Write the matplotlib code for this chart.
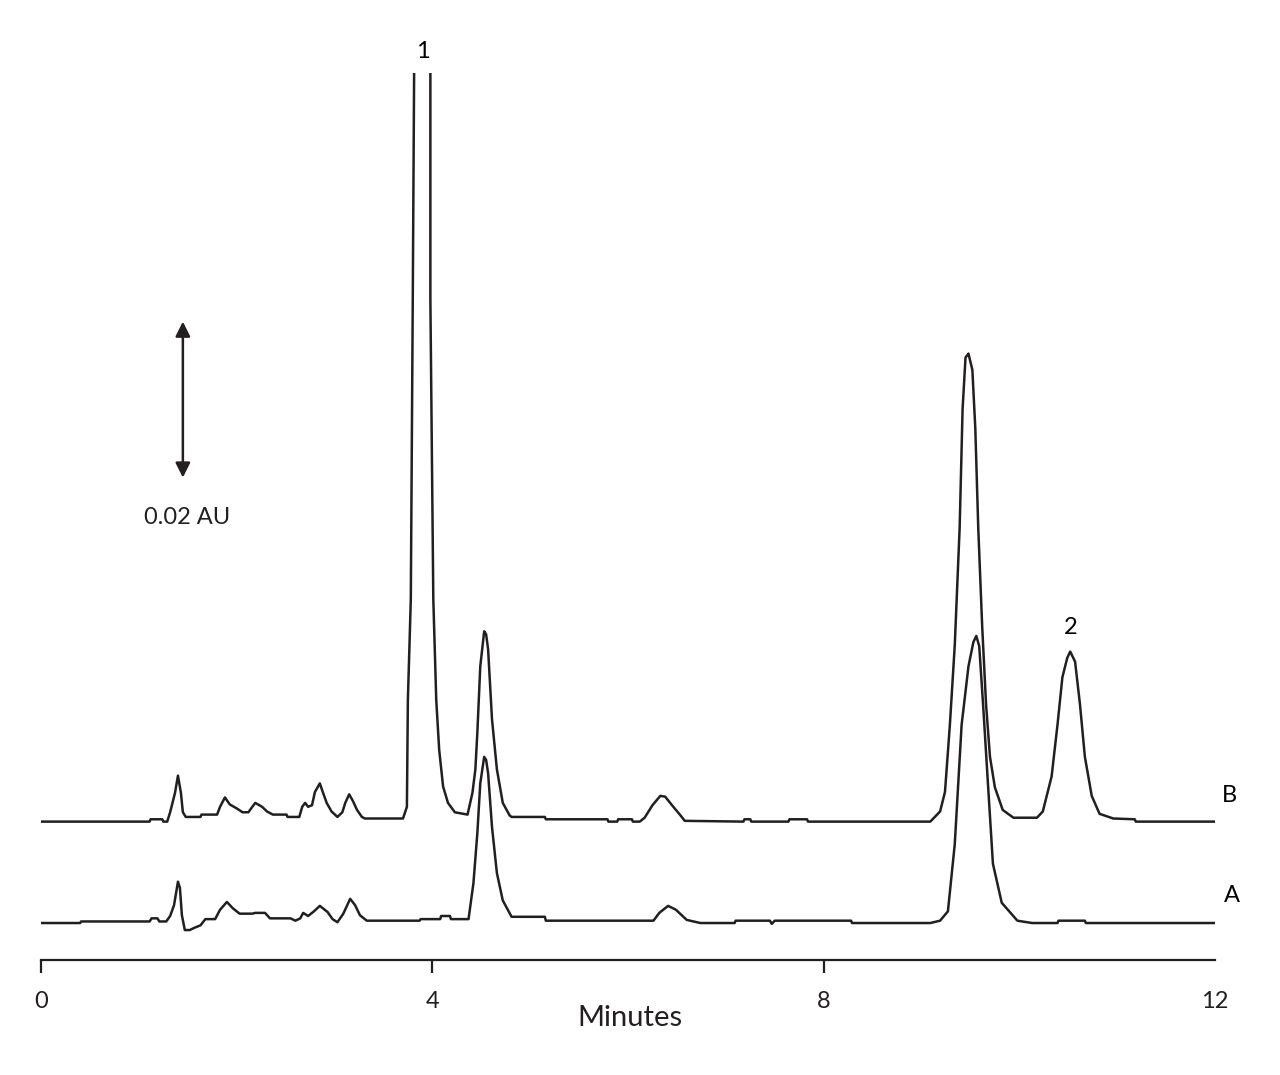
import matplotlib.pyplot as plt

plt.rcParams['font.family'] = ['Lato', 'DejaVu Sans']

# trace A (minutes, mAU above its own baseline)
a_time = [0.0, 0.40, 0.41, 1.11, 1.13, 1.19, 1.21, 1.28, 1.32, 1.36, 1.40, 1.42, 1.44, 1.47,
          1.52, 1.57, 1.63, 1.68, 1.78, 1.83, 1.90, 1.96, 2.03, 2.16, 2.19, 2.29, 2.34, 2.55,
          2.60, 2.65, 2.68, 2.73, 2.79, 2.85, 2.93, 2.98, 3.03, 3.09, 3.16, 3.21, 3.26, 3.33,
          3.87, 3.88, 4.08, 4.09, 4.18, 4.19, 4.37, 4.42, 4.46, 4.49, 4.53, 4.55, 4.57, 4.61,
          4.66, 4.72, 4.81, 5.15, 5.16, 6.26, 6.32, 6.41, 6.49, 6.60, 6.74, 7.09, 7.10, 7.45,
          7.47, 7.50, 8.28, 8.29, 9.09, 9.19, 9.27, 9.34, 9.41, 9.48, 9.53, 9.56, 9.59, 9.63,
          9.68, 9.73, 9.82, 9.98, 10.13, 10.39, 10.40, 10.67, 10.68, 12.0]
a_signal = [0, 0, 0.2, 0.2, 0.6, 0.6, 0.2, 0.2, 0.9, 2.3, 5.3, 4.5, 1.0, -0.9,
            -0.9, -0.6, -0.3, 0.5, 0.5, 1.7, 2.7, 1.9, 1.2, 1.2, 1.3, 1.3, 0.6, 0.6,
            0.3, 0.6, 1.3, 0.9, 1.5, 2.2, 1.4, 0.5, 0.1, 1.2, 3.1, 2.3, 1.0, 0.3,
            0.3, 0.5, 0.5, 0.9, 0.9, 0.5, 0.5, 5.1, 11.5, 17.9, 21.3, 20.9, 19.2, 12.3,
            6.4, 2.9, 0.8, 0.8, 0.3, 0.3, 1.3, 2.2, 1.7, 0.4, 0, 0, 0.3, 0.3,
            -0.1, 0.3, 0.3, 0, 0, 0.3, 1.5, 10.1, 25.4, 32.9, 36.0, 36.8, 35.5, 27.9,
            17.7, 7.6, 2.6, 0.3, 0, 0, 0.3, 0.3, 0, 0]

# trace B
b_time = [0.0, 1.11, 1.12, 1.24, 1.25, 1.29, 1.32, 1.37, 1.40, 1.43, 1.45, 1.48, 1.63, 1.64,
          1.80, 1.83, 1.88, 1.93, 2.00, 2.06, 2.12, 2.16, 2.19, 2.26, 2.31, 2.37, 2.51, 2.52,
          2.64, 2.67, 2.70, 2.73, 2.77, 2.80, 2.85, 2.88, 2.92, 2.97, 3.03, 3.08, 3.11, 3.15,
          3.19, 3.23, 3.28, 3.31, 3.70, 3.74, 3.75, 3.78, 3.80, 3.82, 3.89, 3.98, 3.98, 4.01,
          4.04, 4.07, 4.11, 4.16, 4.23, 4.36, 4.41, 4.44, 4.46, 4.49, 4.53, 4.55, 4.57, 4.61,
          4.66, 4.72, 4.79, 4.81, 5.15, 5.16, 5.79, 5.80, 5.89, 5.90, 6.04, 6.05, 6.12, 6.17,
          6.25, 6.33, 6.38, 6.45, 6.53, 6.58, 7.18, 7.19, 7.25, 7.26, 7.64, 7.65, 7.83, 7.84,
          9.09, 9.19, 9.24, 9.29, 9.34, 9.39, 9.42, 9.45, 9.48, 9.52, 9.55, 9.58, 9.62, 9.66,
          9.70, 9.75, 9.83, 9.94, 10.18, 10.24, 10.33, 10.39, 10.44, 10.49, 10.52, 10.57, 10.62,
          10.67, 10.74, 10.82, 10.96, 11.18, 11.19, 12.0]
b_signal = [0, 0, 0.3, 0.3, 0, 0, 1.2, 3.7, 5.9, 3.7, 1.2, 0.6, 0.6, 0.9,
            0.9, 1.9, 3.1, 2.2, 1.7, 1.2, 1.2, 1.9, 2.4, 1.9, 1.3, 0.9, 0.9, 0.6,
            0.6, 1.9, 2.4, 1.9, 2.1, 3.8, 4.9, 3.8, 2.4, 1.3, 0.6, 1.2, 2.4, 3.5,
            2.6, 1.5, 0.6, 0.4, 0.4, 1.9, 15.6, 28.5, 66.9, 109.0, 118.0, 109.0, 66.9, 28.5,
            15.6, 9.2, 4.5, 2.4, 1.2, 0.9, 3.7, 6.7, 11.4, 19.9, 24.4, 24.0, 22.1, 13.1,
            6.7, 2.4, 0.8, 0.6, 0.6, 0.3, 0.3, 0, 0, 0.3, 0.3, 0, 0, 0.5,
            2.1, 3.3, 3.2, 2.1, 0.9, 0.1, 0, 0.3, 0.3, 0, 0, 0.3, 0.3, 0,
            0, 1.3, 3.8, 12.4, 22.6, 37.7, 52.9, 59.5, 60.0, 57.9, 50.4, 37.7, 25.1, 15.0,
            8.3, 4.4, 1.5, 0.5, 0.5, 1.3, 5.8, 12.4, 18.5, 21.0, 21.8, 20.5, 15.0,
            8.3, 3.3, 1.0, 0.4, 0.3, 0, 0]

b_offset = 13.0  # mAU between the two baselines
peak_labels = ['1', '2']
peak_times = [3.90, 10.52]
peak_label_y = [111.7, 37.9]
xticks = [0, 4, 8, 12]

fig = plt.figure(figsize=(12.8, 10.75), dpi=100)
ax = fig.add_axes([41 / 1280, 1 - 960 / 1075, 1174 / 1280, 887 / 1075])

ax.plot(a_time, a_signal, color='#231f20', lw=1.8)
ax.plot(b_time, [v + b_offset for v in b_signal], color='#231f20', lw=1.8)

ax.set_xlim(0, 12)
ax.set_ylim(-4.74, 108.97)

for s in ['top', 'left', 'right']:
    ax.spines[s].set_visible(False)
ax.spines['bottom'].set_linewidth(1.6)
ax.spines['bottom'].set_color('#231f20')
ax.set_yticks([])
ax.set_xticks(xticks)
ax.set_xticklabels([str(t) for t in xticks], fontsize=17, color='#231f20')
ax.tick_params(axis='x', direction='out', length=9, width=1.6, pad=13, color='#231f20')
ax.xaxis.get_major_ticks()[-1].tick1line.set_visible(False)

fig.text(630 / 1280, 1 - 1018 / 1075, 'Minutes', fontsize=21, ha='center', va='center',
         color='#231f20')

# trace names
ax.text(12.15, b_offset + 3.3, 'B', fontsize=17, ha='center', va='center', clip_on=False)
ax.text(12.17, 3.5, 'A', fontsize=17, ha='center', va='center', clip_on=False)

# peak numbers
for lab, t, y in zip(peak_labels, peak_times, peak_label_y):
    ax.text(t, y, lab, fontsize=17, ha='center', va='center', clip_on=False)

# scale bar
ax.annotate('', xy=(1.45, 77.1), xytext=(1.45, 57.1),
            arrowprops=dict(arrowstyle='<|-|>', color='#231f20', lw=1.8,
                            mutation_scale=22, shrinkA=0, shrinkB=0))
ax.text(1.49, 52.0, '0.02 AU', fontsize=17, ha='center', va='center', color='#231f20')

plt.savefig('out.png', dpi=100)
